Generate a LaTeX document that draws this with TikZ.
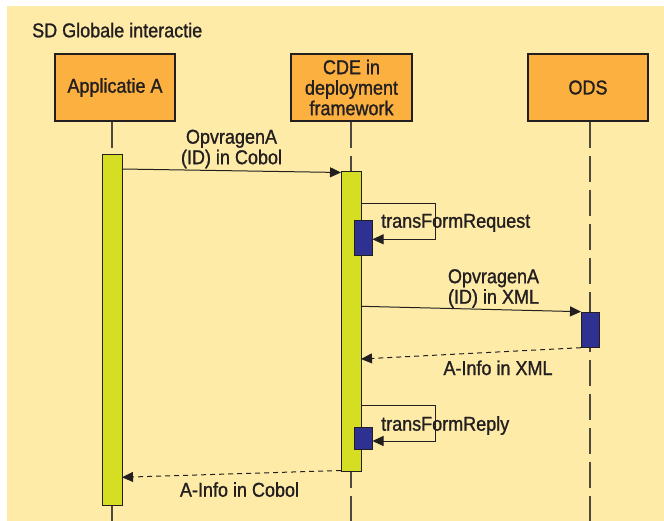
\documentclass[tikz,border=0pt]{standalone}
\usepackage{fontspec}
\setmainfont[FakeStretch=0.9,FakeBold=1.2]{Liberation Sans}
\usetikzlibrary{arrows.meta}
\definecolor{bgyellow}{HTML}{FFEBA8}
\definecolor{boxorange}{HTML}{FBB040}
\definecolor{limebar}{HTML}{D6DE23}
\definecolor{actblue}{HTML}{2E3192}
\definecolor{ink}{HTML}{231F20}
\definecolor{lifegray}{HTML}{4F483E}
\begin{document}
\begin{tikzpicture}[x=1pt,y=-1pt,
  font=\fontsize{20}{20.5}\selectfont, text=ink,
  actor/.style={draw=ink, line width=1.2pt, fill=boxorange, minimum width=120pt,
    minimum height=67pt, inner sep=0pt, align=center},
  lifeline/.style={draw=lifegray, line width=1.6pt, dash pattern=on 26pt off 8pt},
  actbar/.style={draw=ink, line width=1pt, fill=limebar, minimum width=20pt, inner sep=0pt},
  subbar/.style={draw=ink, line width=1pt, fill=actblue, minimum width=18pt, inner sep=0pt},
  msg/.style={draw=ink, line width=1pt, -{Triangle[length=11pt,width=10pt]}},
  selfmsg/.style={msg, line width=0.9pt},
  reply/.style={msg, dash pattern=on 5pt off 4pt},
  lbl/.style={inner sep=0pt, align=center}]
\useasboundingbox (0,0) rectangle (664,521);
\fill[bgyellow] (7,6) rectangle (664,521);

\node[lbl, anchor=base west] (title) at (32,37.3) {SD Globale interactie};

% actors
\node[actor] (appA) at (115,87.5) {Applicatie A};
\node[actor, minimum width=121pt] (cde) at (351.5,87.5) {CDE in\\deployment\\framework};
\node[actor] (ods) at (588,87.5) {ODS};

% lifeline ends
\coordinate (endA) at (112,521);
\coordinate (endC) at (351,521);
\coordinate (endO) at (590,521);
\draw[lifeline] (appA.south -| endA) -- (endA);
\draw[lifeline] (cde.south -| endC) -- (endC);
\draw[lifeline] (ods.south -| endO) -- (endO);

% activations
\node[actbar, minimum height=350pt] (actA) at (112,330) {};
\node[actbar, minimum height=299pt] (actC) at (351,321.5) {};
\node[subbar, minimum height=35pt] (sub1) at (363,238.3) {};
\node[subbar, minimum height=22pt] (sub2) at (363,438.5) {};
\node[subbar, minimum height=35pt] (actO) at (590,330) {};

% message 1
\coordinate (m1s) at (122,169);
\coordinate (m1e) at (341,172.5);
\draw[msg] (m1s) -- (m1e);
\node[lbl] (l1) at (231.5,149) {OpvragenA\\(ID) in Cobol};

% self message: transFormRequest
\coordinate (s1a) at (361,203.3);
\coordinate (s1b) at (435.5,239.3);
\draw[selfmsg] (s1a) -| (s1b) -- (sub1.east |- s1b);
\node[lbl, anchor=base west] (l2) at (381,227.7) {transFormRequest};

% message 3
\coordinate (m3s) at (361,306.3);
\coordinate (m3e) at (581,311.7);
\draw[msg] (m3s) -- (m3e);
\node[lbl] (l3) at (493.5,288.5) {OpvragenA\\(ID) in XML};

% reply XML
\coordinate (r1s) at (581,347.7);
\coordinate (r1e) at (361,359);
\draw[reply] (r1s) -- (r1e);
\node[lbl, anchor=base] (l4) at (498,375) {A-Info in XML};

% self message: transFormReply
\coordinate (s2a) at (361,405.7);
\coordinate (s2b) at (435.5,441);
\draw[selfmsg] (s2a) -| (s2b) -- (sub2.east |- s2b);
\node[lbl, anchor=base west] (l5) at (381,430.7) {transFormReply};

% reply Cobol
\coordinate (r2s) at (341,470.5);
\coordinate (r2e) at (122,477.3);
\draw[reply] (r2s) -- (r2e);
\node[lbl, anchor=base] (l6) at (239.5,496.7) {A-Info in Cobol};
\end{tikzpicture}
\end{document}
